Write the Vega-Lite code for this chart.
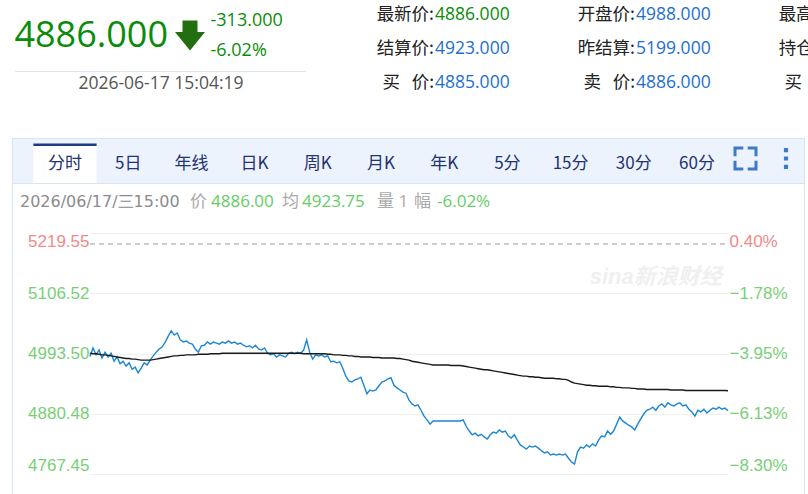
{
"$schema":"https://vega.github.io/schema/vega-lite/v6.json",
"width":808,"height":494,"padding":0,"autosize":{"type":"none"},
"background":"#ffffff",
"config":{"view":{"stroke":null},"axis":{"domain":false,"ticks":false}},
"datasets":{
"one":[{"k":1}],
"head":[{"k":"price","t":"4886.000","gx":2,"gy":1},{"k":"arrow","t":"","gx":3,"gy":1},{"k":"chg","t":"-313.000","gx":4,"gy":0},{"k":"pct","t":"-6.02%","gx":4,"gy":2},{"k":"time","t":"2026-06-17 15:04:19","gx":1,"gy":3}],
"quote":[{"c":0,"r":0,"lab":"最新价:","val":"4886.000"},{"c":1,"r":0,"lab":"开盘价:","val":"4988.000"},{"c":2,"r":0,"lab":"最高价:","val":""},{"c":0,"r":1,"lab":"结算价:","val":"4923.000"},{"c":1,"r":1,"lab":"昨结算:","val":"5199.000"},{"c":2,"r":1,"lab":"持仓量:","val":""},{"c":0,"r":2,"lab":"买\u00a0\u00a0\u00a0价:","val":"4885.000"},{"c":1,"r":2,"lab":"卖\u00a0\u00a0\u00a0价:","val":"4886.000"},{"c":2,"r":2,"lab":"买\u00a0\u00a0\u00a0量:","val":""}],
"tabs":[{"tab":"分时","act":1},{"tab":"5日","act":0},{"tab":"年线","act":0},{"tab":"日K","act":0},{"tab":"周K","act":0},{"tab":"月K","act":0},{"tab":"年K","act":0},{"tab":"5分","act":0},{"tab":"15分","act":0},{"tab":"30分","act":0},{"tab":"60分","act":0}],
"icons":[{"icon":"full"},{"icon":"more"}],
"info":[{"g":0,"t":"2026/06/17/三15:00","kind":"date"},{"g":1,"t":"价","kind":"lab"},{"g":2,"t":"4886.00","kind":"val"},{"g":3,"t":"均","kind":"lab"},{"g":4,"t":"4923.75","kind":"val"},{"g":5,"t":"量 1","kind":"lab"},{"g":6,"t":"幅","kind":"lab"},{"g":7,"t":"-6.02%","kind":"val"}],
"s":[
{"i":0,"p":4988,"a":4994},{"i":1,"p":5004,"a":4993},{"i":2,"p":4991,"a":4993},{"i":3,"p":5000,"a":4992},{"i":4,"p":4985,"a":4991},{"i":5,"p":4996,"a":4991},{"i":6,"p":4987,"a":4990},{"i":7,"p":4994,"a":4989},{"i":8,"p":4979,"a":4988},{"i":9,"p":4987,"a":4987},
{"i":10,"p":4974,"a":4986},{"i":11,"p":4979,"a":4985},{"i":12,"p":4970,"a":4984},{"i":13,"p":4976,"a":4984},{"i":14,"p":4964,"a":4983},{"i":15,"p":4968,"a":4983},{"i":16,"p":4957,"a":4982},{"i":17,"p":4966,"a":4981},{"i":18,"p":4976,"a":4981},{"i":19,"p":4972,"a":4981},
{"i":20,"p":4981,"a":4981},{"i":21,"p":4989,"a":4982},{"i":22,"p":4996,"a":4983},{"i":23,"p":5002,"a":4984},{"i":24,"p":5006,"a":4985},{"i":25,"p":5015,"a":4986},{"i":26,"p":5026,"a":4987},{"i":27,"p":5036,"a":4988},{"i":28,"p":5028,"a":4989},{"i":29,"p":5032,"a":4989},
{"i":30,"p":5019,"a":4990},{"i":31,"p":5015,"a":4990},{"i":32,"p":5017,"a":4991},{"i":33,"p":5013,"a":4991},{"i":34,"p":5011,"a":4991},{"i":35,"p":5002,"a":4991},{"i":36,"p":4996,"a":4992},{"i":37,"p":5008,"a":4992},{"i":38,"p":5009,"a":4992},{"i":39,"p":5015,"a":4992},
{"i":40,"p":5011,"a":4993},{"i":41,"p":5015,"a":4993},{"i":42,"p":5013,"a":4993},{"i":43,"p":5011,"a":4993},{"i":44,"p":5015,"a":4994},{"i":45,"p":5013,"a":4994},{"i":46,"p":5017,"a":4994},{"i":47,"p":5013,"a":4994},{"i":48,"p":5015,"a":4994},{"i":49,"p":5011,"a":4994},
{"i":50,"p":5013,"a":4994},{"i":51,"p":5009,"a":4994},{"i":52,"p":5006,"a":4994},{"i":53,"p":5008,"a":4994},{"i":54,"p":5004,"a":4994},{"i":55,"p":5009,"a":4994},{"i":56,"p":5002,"a":4994},{"i":57,"p":5000,"a":4994},{"i":58,"p":5004,"a":4994},{"i":59,"p":4994,"a":4994},
{"i":60,"p":4991,"a":4994},{"i":61,"p":4993,"a":4994},{"i":62,"p":4987,"a":4994},{"i":63,"p":4991,"a":4994},{"i":64,"p":4989,"a":4994},{"i":65,"p":4987,"a":4994},{"i":66,"p":4994,"a":4994},{"i":67,"p":4996,"a":4994},{"i":68,"p":4993,"a":4994},{"i":69,"p":4996,"a":4994},
{"i":70,"p":4994,"a":4994},{"i":71,"p":5000,"a":4993},{"i":72,"p":5019,"a":4993},{"i":73,"p":4996,"a":4993},{"i":74,"p":4983,"a":4993},{"i":75,"p":4991,"a":4993},{"i":76,"p":4989,"a":4993},{"i":77,"p":4991,"a":4993},{"i":78,"p":4987,"a":4993},{"i":79,"p":4989,"a":4992},
{"i":80,"p":4978,"a":4992},{"i":81,"p":4979,"a":4991},{"i":82,"p":4976,"a":4991},{"i":83,"p":4978,"a":4991},{"i":84,"p":4966,"a":4990},{"i":85,"p":4951,"a":4990},{"i":86,"p":4942,"a":4989},{"i":87,"p":4940,"a":4989},{"i":88,"p":4944,"a":4988},{"i":89,"p":4946,"a":4988},
{"i":90,"p":4949,"a":4987},{"i":91,"p":4934,"a":4987},{"i":92,"p":4918,"a":4987},{"i":93,"p":4925,"a":4987},{"i":94,"p":4923,"a":4986},{"i":95,"p":4925,"a":4986},{"i":96,"p":4933,"a":4986},{"i":97,"p":4940,"a":4985},{"i":98,"p":4942,"a":4985},{"i":99,"p":4946,"a":4985},
{"i":100,"p":4948,"a":4985},{"i":101,"p":4934,"a":4985},{"i":102,"p":4929,"a":4984},{"i":103,"p":4925,"a":4984},{"i":104,"p":4921,"a":4983},{"i":105,"p":4919,"a":4982},{"i":106,"p":4906,"a":4981},{"i":107,"p":4899,"a":4979},{"i":108,"p":4895,"a":4978},{"i":109,"p":4897,"a":4977},
{"i":110,"p":4887,"a":4976},{"i":111,"p":4876,"a":4975},{"i":112,"p":4869,"a":4974},{"i":113,"p":4861,"a":4973},{"i":114,"p":4867,"a":4972},{"i":115,"p":4867,"a":4972},{"i":116,"p":4867,"a":4972},{"i":117,"p":4867,"a":4972},{"i":118,"p":4867,"a":4972},{"i":119,"p":4867,"a":4972},
{"i":120,"p":4867,"a":4971},{"i":121,"p":4867,"a":4971},{"i":122,"p":4867,"a":4971},{"i":123,"p":4867,"a":4971},{"i":124,"p":4869,"a":4970},{"i":125,"p":4857,"a":4969},{"i":126,"p":4848,"a":4968},{"i":127,"p":4841,"a":4967},{"i":128,"p":4844,"a":4966},{"i":129,"p":4839,"a":4965},
{"i":130,"p":4842,"a":4964},{"i":131,"p":4837,"a":4963},{"i":132,"p":4833,"a":4963},{"i":133,"p":4841,"a":4962},{"i":134,"p":4846,"a":4961},{"i":135,"p":4844,"a":4960},{"i":136,"p":4850,"a":4959},{"i":137,"p":4846,"a":4958},{"i":138,"p":4848,"a":4957},{"i":139,"p":4839,"a":4956},
{"i":140,"p":4835,"a":4955},{"i":141,"p":4841,"a":4954},{"i":142,"p":4831,"a":4953},{"i":143,"p":4822,"a":4952},{"i":144,"p":4818,"a":4951},{"i":145,"p":4814,"a":4951},{"i":146,"p":4820,"a":4950},{"i":147,"p":4818,"a":4950},{"i":148,"p":4820,"a":4949},{"i":149,"p":4816,"a":4949},
{"i":150,"p":4811,"a":4948},{"i":151,"p":4807,"a":4947},{"i":152,"p":4809,"a":4947},{"i":153,"p":4803,"a":4947},{"i":154,"p":4805,"a":4947},{"i":155,"p":4803,"a":4946},{"i":156,"p":4805,"a":4946},{"i":157,"p":4803,"a":4945},{"i":158,"p":4805,"a":4945},{"i":159,"p":4797,"a":4943},
{"i":160,"p":4790,"a":4940},{"i":161,"p":4786,"a":4938},{"i":162,"p":4809,"a":4937},{"i":163,"p":4818,"a":4936},{"i":164,"p":4816,"a":4935},{"i":165,"p":4822,"a":4934},{"i":166,"p":4818,"a":4934},{"i":167,"p":4824,"a":4933},{"i":168,"p":4820,"a":4933},{"i":169,"p":4831,"a":4932},
{"i":170,"p":4839,"a":4932},{"i":171,"p":4837,"a":4932},{"i":172,"p":4848,"a":4932},{"i":173,"p":4842,"a":4931},{"i":174,"p":4848,"a":4931},{"i":175,"p":4861,"a":4930},{"i":176,"p":4874,"a":4930},{"i":177,"p":4867,"a":4929},{"i":178,"p":4863,"a":4929},{"i":179,"p":4859,"a":4929},
{"i":180,"p":4856,"a":4928},{"i":181,"p":4850,"a":4928},{"i":182,"p":4861,"a":4927},{"i":183,"p":4871,"a":4927},{"i":184,"p":4880,"a":4927},{"i":185,"p":4887,"a":4926},{"i":186,"p":4889,"a":4926},{"i":187,"p":4893,"a":4926},{"i":188,"p":4887,"a":4926},{"i":189,"p":4895,"a":4926},
{"i":190,"p":4899,"a":4926},{"i":191,"p":4893,"a":4926},{"i":192,"p":4901,"a":4926},{"i":193,"p":4897,"a":4925},{"i":194,"p":4895,"a":4925},{"i":195,"p":4899,"a":4925},{"i":196,"p":4901,"a":4925},{"i":197,"p":4895,"a":4925},{"i":198,"p":4897,"a":4924},{"i":199,"p":4889,"a":4924},
{"i":200,"p":4884,"a":4924},{"i":201,"p":4876,"a":4924},{"i":202,"p":4887,"a":4924},{"i":203,"p":4884,"a":4924},{"i":204,"p":4889,"a":4924},{"i":205,"p":4882,"a":4924},{"i":206,"p":4887,"a":4924},{"i":207,"p":4891,"a":4924},{"i":208,"p":4889,"a":4924},{"i":209,"p":4893,"a":4924},
{"i":210,"p":4889,"a":4924},{"i":211,"p":4891,"a":4924},{"i":212,"p":4886,"a":4923.75}
]
},
"layer":[
{"data":{"name":"one"},
 "layer":[
  {"mark":{"type":"rect","fill":"#edf3fc","stroke":"#d9e4f1","strokeWidth":1},
   "encoding":{
    "x":{"datum":0,"type":"quantitative","scale":{"domain":[0,1,2,3],"range":[12.5,15,306,804.5],"nice":false,"zero":false},"axis":null},
    "x2":{"datum":3},
    "y":{"datum":1,"type":"quantitative","scale":{"domain":[0,1,2,3],"range":[71.5,138.5,183.5,600],"nice":false,"zero":false},"axis":null},
    "y2":{"datum":2}}},
  {"mark":{"type":"rect","fillOpacity":0,"stroke":"#d9e4f1","strokeWidth":1},
   "encoding":{"x":{"datum":0,"type":"quantitative","axis":null},"x2":{"datum":3},"y":{"datum":1,"type":"quantitative","axis":null},"y2":{"datum":3}}},
  {"mark":{"type":"rule","stroke":"#dfe5ec","strokeWidth":1},
   "encoding":{"x":{"datum":1,"type":"quantitative","axis":null},"x2":{"datum":2},"y":{"datum":0,"type":"quantitative","axis":null}}}
 ]},
{"data":{"name":"head"},
 "encoding":{
  "x":{"field":"gx","type":"quantitative","scale":{"domain":[1,2,3,4],"range":[161,168,190,210.5],"nice":false,"zero":false},"axis":null},
  "y":{"field":"gy","type":"quantitative","scale":{"domain":[0,1,2,3],"range":[20.5,35.5,51,84],"nice":false,"zero":false},"axis":null}},
 "layer":[
  {"transform":[{"filter":"datum.k==='price'"}],"mark":{"type":"text","align":"right","baseline":"middle","font":"Open Sans","fontSize":36,"color":"#0a8c0a"},"encoding":{"text":{"field":"t","type":"nominal"}}},
  {"transform":[{"filter":"datum.k==='arrow'"}],"mark":{"type":"point","shape":"M-0.5,-1L0.5,-1L0.5,-0.24L1,-0.24L0,1L-1,-0.24L-0.5,-0.24Z","filled":true,"fill":"#236e0e","size":900,"opacity":1,"strokeWidth":0}},
  {"transform":[{"filter":"datum.k==='chg'||datum.k==='pct'"}],"mark":{"type":"text","align":"left","baseline":"middle","font":"Open Sans","fontSize":18,"color":"#0a8c0a"},"encoding":{"text":{"field":"t","type":"nominal"}}},
  {"transform":[{"filter":"datum.k==='time'"}],"mark":{"type":"text","align":"center","baseline":"middle","font":"Open Sans","fontSize":17.5,"color":"#555555"},"encoding":{"text":{"field":"t","type":"nominal"}}}
 ]},
{"data":{"name":"quote"},
 "encoding":{
  "x":{"field":"c","type":"quantitative","scale":{"domain":[0,2],"range":[434,836],"nice":false,"zero":false},"axis":null},
  "y":{"field":"r","type":"quantitative","scale":{"domain":[0,2],"range":[14.5,83],"nice":false,"zero":false},"axis":null}},
 "layer":[
  {"mark":{"type":"text","align":"right","baseline":"middle","font":"Noto Sans CJK SC","fontSize":17.5,"color":"#222222"},"encoding":{"text":{"field":"lab","type":"nominal"}}},
  {"mark":{"type":"text","align":"left","baseline":"middle","font":"Open Sans","fontSize":17.5,"dx":1},"encoding":{"text":{"field":"val","type":"nominal"},"color":{"condition":{"test":"datum.lab==='最新价:'","value":"#0a8c0a"},"value":"#1e6fd0"}}}
 ]},
{"data":{"name":"tabs"},
 "encoding":{"x":{"field":"tab","type":"nominal","scale":{"type":"band","domain":["分时","5日","年线","日K","周K","月K","年K","5分","15分","30分","60分"],"range":[33.4,728.6],"paddingInner":0,"paddingOuter":0},"axis":null}},
 "layer":[
  {"transform":[{"filter":"datum.act===1"}],"mark":{"type":"rect","color":"#ffffff"},"encoding":{"y":{"datum":1,"type":"quantitative","scale":{"domain":[0,1,2,3],"range":[143.5,146,164,183],"nice":false,"zero":false},"axis":null},"y2":{"datum":3}}},
  {"transform":[{"filter":"datum.act===1"}],"mark":{"type":"rect","color":"#1d3c88"},"encoding":{"y":{"datum":0,"type":"quantitative","axis":null},"y2":{"datum":1}}},
  {"mark":{"type":"text","baseline":"middle","align":"center","font":"Noto Sans CJK SC","fontSize":17,"color":"#233272"},"encoding":{"y":{"datum":2,"type":"quantitative","axis":null},"text":{"field":"tab","type":"nominal"}}}
 ]},
{"data":{"name":"icons"},
 "encoding":{"x":{"field":"icon","type":"nominal","scale":{"type":"point","domain":["full","more"],"range":[745.5,786],"padding":0},"axis":null},
  "y":{"datum":0,"type":"quantitative","scale":{"domain":[0,1],"range":[158.5,200],"nice":false,"zero":false},"axis":null}},
 "layer":[
  {"transform":[{"filter":"datum.icon==='full'"}],"mark":{"type":"point","shape":"M-1,-0.35L-1,-1L-0.35,-1M0.35,-1L1,-1L1,-0.35M1,0.35L1,1L0.35,1M-0.35,1L-1,1L-1,0.35","filled":false,"stroke":"#3b7bc8","strokeWidth":3,"strokeCap":"square","size":441,"opacity":1}},
  {"transform":[{"filter":"datum.icon==='more'"}],"mark":{"type":"point","shape":"M-0.2,-1L0.2,-1L0.2,-0.6L-0.2,-0.6Z M-0.2,-0.2L0.2,-0.2L0.2,0.2L-0.2,0.2Z M-0.2,0.6L0.2,0.6L0.2,1L-0.2,1Z","filled":true,"fill":"#3b7bc8","size":433,"opacity":1,"strokeWidth":0}}
 ]},
{"data":{"name":"info"},
 "encoding":{"x":{"field":"g","type":"quantitative","scale":{"domain":[0,1,2,3,4,5,6,7],"range":[20,190,211,282,302,377,414,437],"nice":false,"zero":false},"axis":null},
  "y":{"datum":0,"type":"quantitative","scale":{"domain":[0,1],"range":[202,240],"nice":false,"zero":false},"axis":null}},
 "layer":[
  {"transform":[{"filter":"datum.kind==='date'"}],"mark":{"type":"text","align":"left","baseline":"middle","font":"DejaVu Sans","fontSize":16,"color":"#8c8c8c"},"encoding":{"text":{"field":"t","type":"nominal"}}},
  {"transform":[{"filter":"datum.kind!=='date'"}],"mark":{"type":"text","align":"left","baseline":"middle","font":"Open Sans, Noto Sans CJK SC","fontSize":17},"encoding":{"text":{"field":"t","type":"nominal"},"color":{"condition":{"test":"datum.kind==='val'","value":"#66cc66"},"value":"#aaaaaa"}}}
 ]},
{"data":{"name":"s"},
 "layer":[
  {"mark":{"type":"line","stroke":"#1b87d4","strokeWidth":1.4,"interpolate":"linear"},
   "encoding":{
    "x":{"field":"i","type":"quantitative","title":null,"scale":{"domain":[0,212],"range":[90,728],"nice":false,"zero":false},
     "axis":{"orient":"bottom","offset":-20,"values":[0,53,106,159,212],"labelExpr":"datum.value==0?'21:00':datum.value==53?'22:30':datum.value==106?'09:59':datum.value==159?'11:29':'15:00'","labelFont":"Liberation Sans","labelFontSize":17,"labelColor":"#8c8c8c","labelPadding":5,"labelFlush":true,"grid":true,"gridColor":"#eeeeee","gridOpacity":{"condition":{"test":"datum.value==106","value":1},"value":0},"title":null}},
    "y":{"field":"p","type":"quantitative","title":null,"scale":{"domain":[4767.45,5219.55],"range":[474,233],"nice":false,"zero":false},
     "axis":{"orient":"left","offset":-90,"values":[4767.45,4880.48,4993.5,5106.52,5219.55],"labelExpr":"format(datum.value,'.2f')","labelFont":"Liberation Sans","labelFontSize":17,"labelColor":{"condition":{"test":"datum.value>5200","value":"#f28a8a"},"value":"#78cf78"},"labelPadding":1,"labelFlush":true,"grid":true,"gridColor":"#efefef","title":null}}}},
  {"mark":{"type":"line","stroke":"#1a1a1a","strokeWidth":1.4},
   "encoding":{
    "x":{"field":"i","type":"quantitative","title":null,"axis":null},
    "y":{"field":"a","type":"quantitative","title":null,
     "axis":{"orient":"right","offset":-80,"values":[4767.45,4880.48,4993.5,5106.52,5219.55],"labelExpr":"format((datum.value/5199-1)*100,'.2f')+'%'","labelFont":"Liberation Sans","labelFontSize":17,"labelColor":{"condition":{"test":"datum.value>5200","value":"#f28a8a"},"value":"#78cf78"},"labelPadding":1,"labelFlush":true,"grid":false,"title":null}}}},
  {"data":{"name":"one"},"mark":{"type":"rule","stroke":"#9a9a9a","strokeWidth":1,"strokeDash":[5,4]},
   "encoding":{"x":{"datum":0,"type":"quantitative","axis":null},"x2":{"datum":212},"y":{"datum":5199,"type":"quantitative","axis":null}}},
  {"data":{"name":"one"},"mark":{"type":"text","text":"sina新浪财经","font":"Liberation Sans, Noto Sans CJK SC","fontSize":22,"fontStyle":"italic","fontWeight":"bold","color":"#f0f0f0","align":"center","baseline":"middle"},
   "encoding":{"x":{"datum":188,"type":"quantitative","axis":null},"y":{"datum":5137,"type":"quantitative","axis":null}}}
 ],
 "resolve":{"axis":{"y":"independent"}}}
],
"resolve":{"scale":{"x":"independent","y":"independent","color":"independent"},"axis":{"x":"independent","y":"independent"}}
}
